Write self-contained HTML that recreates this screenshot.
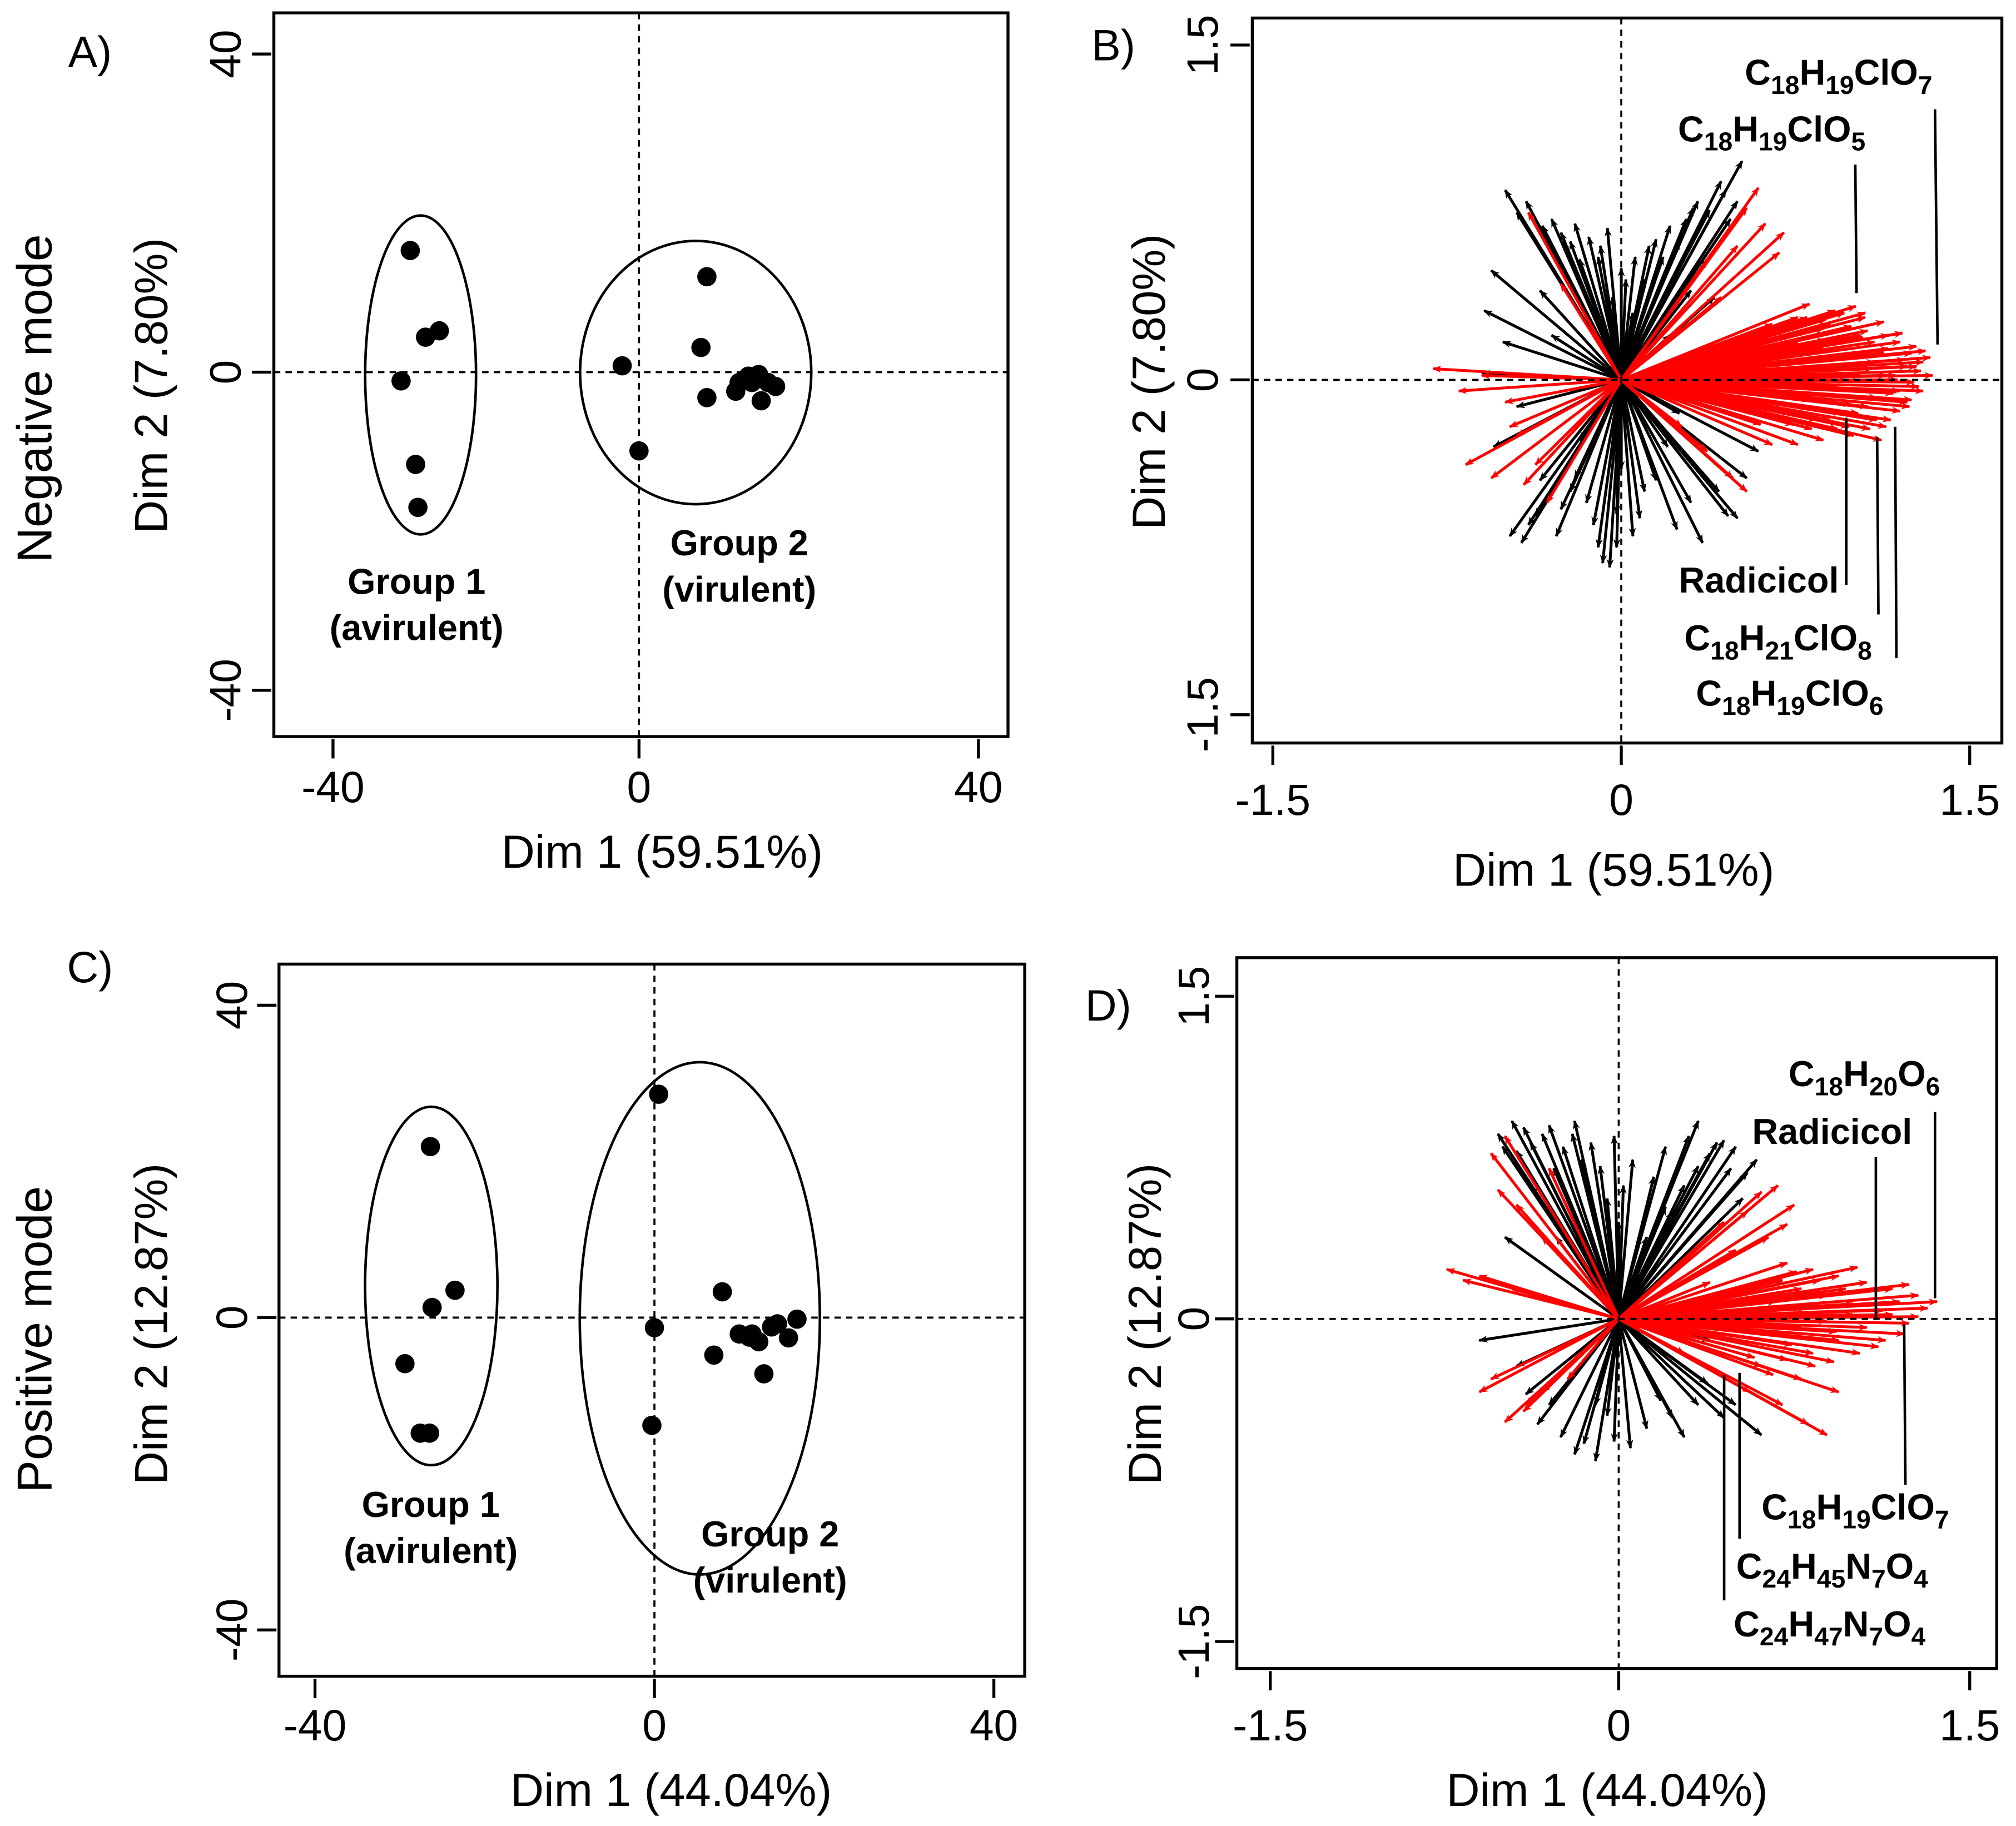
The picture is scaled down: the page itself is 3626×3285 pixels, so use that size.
<!DOCTYPE html>
<html><head><meta charset="utf-8"><style>
html,body{margin:0;padding:0;background:#fff}
svg{display:block}
text{font-family:"Liberation Sans",Arial,sans-serif;fill:#000}
.b{font-weight:bold}
</style></head><body>
<svg id="fig" xmlns="http://www.w3.org/2000/svg" width="3626" height="3285" viewBox="0 0 1568 1420.5">
<defs>
<marker id="ahk" viewBox="0 0 10 10" refX="9" refY="5" markerWidth="8" markerHeight="7" orient="auto" markerUnits="userSpaceOnUse"><path d="M0,1 L10,5 L0,9 L3,5 Z" fill="#000"/></marker>
<marker id="ahr" viewBox="0 0 10 10" refX="9" refY="5" markerWidth="8" markerHeight="7" orient="auto" markerUnits="userSpaceOnUse"><path d="M0,1 L10,5 L0,9 L3,5 Z" fill="#f00"/></marker>
</defs>
</svg>
<script>
// ---------- Panel A data (Dim1, Dim2) ----------
const aG1x=[-29.9,-27.9,-26.1,-31.1,-29.2,-28.9];
const aG1y=[15.3,4.4,5.2,-1.1,-11.6,-17.0];
const aG2x=[8.0,7.3,-2.2,0,8.0,11.8,12.9,14.1,15.2,16.1,11.4,14.4,13.3];
const aG2y=[12.0,3.1,0.8,-9.9,-3.2,-1.3,-0.5,-0.3,-1.3,-1.8,-2.4,-3.6,-1.3];
const aEll=[[-35.8,-21.3,19.7,-20.4],[-7.7,20.3,16.5,-16.6]];
// ---------- Panel C data ----------
const cG1x=[-26.4,-23.5,-26.2,-29.4,-27.6,-26.5];
const cG1y=[21.9,3.5,1.3,-5.9,-14.8,-14.8];
const cG2x=[0.5,8.0,0,-0.3,7.0,10.0,11.2,12.3,13.8,14.5,15.8,16.8,12.9,11.5];
const cG2y=[28.6,3.3,-1.3,-13.8,-4.8,-2.1,-2.5,-3.1,-1.2,-0.8,-2.6,-0.2,-7.2,-2.1];
const cEll=[[-34.1,-18.5,27.0,-18.9],[-8.8,19.5,32.7,-32.9]];
const scoreTicks=[-40,0,40];
const loadTicks=[-1.5,0,1.5];
// ---------- Panel B loadings ----------
const bBlackX=[-0.50,-0.41,-0.56,-0.59,-0.34,-0.26,-0.18,-0.09,-0.04,-0.51,0.52,0.43,0.31,0.21,0.15,0.47,0.37,0.40,0.21,-0.48,-0.43,-0.37,-0.26,-0.20,-0.08,-0.05,0.24,0.35,0.46,0.54,0.59,0.10,-0.18,-0.60,-0.45,0.55,0.35,-0.30,0.20,-0.15,0.05,-0.45,-0.22,0.0,0.10,-0.02,
 -0.30,-0.25,-0.20,-0.14,-0.10,-0.06,0.02,0.06,0.12,0.18,0.25,0.28,0.33,0.38,0.45,0.50,-0.40,-0.33,-0.28,-0.22,-0.12,-0.02,0.08,0.15,0.30,0.42,0.50,-0.55,-0.35,0.45,0.25,-0.10,0.00,0.05,-0.35,0.30];
const bBlackY=[0.85,0.80,0.49,0.31,0.69,0.66,0.54,0.60,0.37,0.17,0.98,0.89,0.77,0.69,0.63,0.72,0.54,0.37,0.20,-0.70,-0.73,-0.61,-0.58,-0.44,-0.82,-0.84,-0.67,-0.73,-0.61,-0.44,-0.32,-0.50,-0.27,0.03,-0.12,-0.05,0.10,0.20,-0.30,-0.55,-0.70,0.75,0.62,0.50,0.45,-0.60,
 0.72,0.62,0.70,0.64,0.55,0.68,0.45,0.55,0.60,0.55,0.62,0.72,0.80,0.76,0.85,0.80,-0.65,-0.55,-0.70,-0.50,-0.65,-0.75,-0.62,-0.45,-0.55,-0.50,-0.62,-0.30,-0.45,0.05,-0.15,-0.75,-0.40,0.30,0.40,0.40];
const bRedX=[-0.81,-0.67,-0.56,-0.42,-0.37,-0.48,-0.40,-0.26,0.59,0.54,0.70,0.68,0.43,1.01,0.92,0.81,0.76,0.65,0.87,1.03,1.09,1.20,1.31,1.34,1.28,1.25,1.20,1.14,1.12,0.98,0.87,0.76,0.65,0.54,0.48,0.37,0.26,1.14,1.03,0.92,0.81,1.09,0.98,0.87,0.76,1.23,1.17,1.06,0.95,0.84,0.73,0.62,0.51,0.37,0.32,0.43,0.26,1.30,1.25,1.15,1.10,1.00,0.90,1.20,1.05,0.95,0.70,0.60,-0.60,-0.50,
 1.33,1.29,1.26,1.22,1.18,1.13,1.08,1.04,0.99,0.94,1.30,1.27,1.23,1.19,1.15,1.10,1.06,1.02,0.97,0.93,0.88,1.24,1.16,1.07,0.99,0.90,0.82,0.74,1.27,1.21,1.13,1.05,0.96,0.88,0.80,0.71,0.63,0.56,-0.70,-0.45,-0.32,0.50,0.62];
const bRedY=[0.05,-0.38,-0.44,-0.47,-0.38,-0.21,0.75,0.43,0.86,0.77,0.66,0.57,0.37,0.33,0.31,0.34,0.28,0.25,0.23,0.20,0.17,0.17,0.13,0.02,-0.03,-0.09,-0.14,-0.21,-0.27,-0.21,-0.27,-0.29,-0.29,-0.50,-0.44,-0.32,-0.21,0.02,0.02,-0.03,-0.09,0.08,0.11,0.14,0.17,0.06,-0.06,-0.12,-0.15,-0.18,-0.15,-0.12,-0.03,-0.09,0.08,0.14,0.23,0.08,0.12,0.14,-0.18,-0.25,0.25,-0.05,0.28,0.05,0.05,-0.20,0.02,-0.10,
 0.10,0.04,-0.01,0.09,0.02,0.12,0.05,0.19,0.24,0.10,-0.05,0.06,-0.10,0.00,0.20,-0.08,0.22,-0.15,0.00,-0.22,0.18,-0.12,-0.18,-0.22,-0.11,-0.18,-0.22,-0.20,0.15,0.21,0.26,0.30,0.30,0.27,0.28,0.20,0.22,0.18,-0.05,-0.25,-0.55,0.60,0.70];
// ---------- Panel D loadings ----------
const dBlackX=[-0.52,-0.46,-0.41,-0.33,-0.24,-0.16,-0.08,-0.05,-0.38,-0.49,0.59,0.50,0.45,0.39,0.34,0.28,0.23,0.53,-0.35,-0.19,-0.10,-0.02,0.12,0.23,0.34,0.45,0.61,-0.60,-0.44,0.39,-0.27,0.12,0.06,-0.19,0.34,
 -0.50,-0.44,-0.38,-0.30,-0.28,-0.20,-0.12,-0.02,0.02,0.15,0.20,0.30,0.42,0.48,0.55,-0.30,-0.25,-0.15,-0.05,0.05,0.18,0.28,0.38,0.50,-0.40,-0.10,0.00,0.20];
const dBlackY=[0.86,0.92,0.89,0.86,0.80,0.74,0.71,0.56,0.62,0.38,0.74,0.80,0.83,0.77,0.71,0.62,0.50,0.56,-0.49,-0.63,-0.66,-0.57,-0.51,-0.46,-0.40,-0.46,-0.54,-0.10,-0.22,-0.10,0.38,0.38,0.74,0.92,0.92,
 0.80,0.78,0.82,0.90,0.70,0.86,0.82,0.85,0.62,0.66,0.80,0.85,0.82,0.70,0.68,-0.40,-0.55,-0.58,-0.45,-0.60,-0.38,-0.55,-0.30,-0.40,-0.35,-0.40,0.45,0.52];
const dRedX=[-0.55,-0.49,-0.44,-0.33,-0.74,-0.60,-0.46,-0.49,-0.41,-0.33,-0.22,-0.60,0.89,0.81,0.70,0.56,0.78,0.94,0.61,0.75,0.72,0.64,0.50,1.36,1.28,1.17,1.06,0.94,0.83,0.72,1.17,1.28,1.06,0.94,0.83,0.72,0.61,1.00,0.89,0.78,0.67,0.56,1.11,1.22,0.89,0.78,0.39,0.28,
 1.32,1.24,1.20,1.13,1.02,0.97,0.86,0.76,1.24,1.14,1.03,0.93,0.84,0.74,0.66,0.58,1.00,0.92,0.80,0.70,-0.67,-0.55,-0.40,-0.52,-0.30,0.45,0.55,0.68];
const dRedY=[0.77,0.85,0.53,0.38,0.23,0.20,0.14,-0.48,-0.43,-0.34,-0.28,-0.34,-0.54,-0.49,-0.40,-0.34,-0.28,-0.34,0.59,0.53,0.44,0.38,0.32,0.08,0.11,0.14,0.17,0.20,0.23,0.26,0.02,0.01,-0.04,-0.10,-0.16,-0.19,-0.22,0.07,0.11,0.14,0.08,-0.04,-0.13,-0.07,-0.01,-0.04,0.17,-0.16,
 0.05,0.16,0.08,0.04,0.24,0.14,0.18,0.22,-0.02,-0.10,-0.16,-0.06,-0.22,-0.12,-0.26,-0.18,0.02,-0.20,0.05,0.18,0.18,-0.28,-0.40,0.60,0.70,0.45,0.50,0.62];

const svg=document.getElementById('fig');
const NS='http://www.w3.org/2000/svg';
function mk(tag,attrs,parent){const e=document.createElementNS(NS,tag);for(const k in attrs)e.setAttribute(k,attrs[k]);(parent||svg).appendChild(e);return e;}
function lin(d0,d1,p0,p1){return v=>p0+(v-d0)*(p1-p0)/(d1-d0);}
function pw(dm,d0,d1,pm,p0,p1){return v=>v<dm?pm+(v-dm)*(pm-p0)/(dm-d0):pm+(v-dm)*(p1-pm)/(d1-dm);}

function frame(g,box,xs,ys,xt,yt,xlabY,ylabX,xTitle,yTitle,titleX,titleY,yTitleX,yTitleY,zx,zy){
  const r=mk('rect',{x:box[0],y:box[1],width:box[2]-box[0],height:box[3]-box[1],fill:'none',stroke:'#000','stroke-width':2.3},g);
  
  
  const v=mk('line',{x1:zx,x2:zx,y1:box[1],y2:box[3],stroke:'#000','stroke-width':1.6,'stroke-dasharray':'5,4'},g);
  
  
  const h=mk('line',{x1:box[0],x2:box[2],y1:zy,y2:zy,stroke:'#000','stroke-width':1.6,'stroke-dasharray':'5,4'},g);
  
  
  xt.forEach(t=>{const x=xs(t);
    const l=mk('line',{x1:x,x2:x,y1:box[3]+2,y2:box[3]+17,stroke:'#000','stroke-width':2.3},g);
    
    
    const tx=mk('text',{x:x,y:xlabY+12,'text-anchor':'middle','font-size':34},g);tx.textContent=String(t);
    
    
  });
  yt.forEach(t=>{const y=ys(t);
    const l=mk('line',{x1:box[0]-2,x2:box[0]-17,y1:y,y2:y,stroke:'#000','stroke-width':2.3},g);
    
    
    const tx=mk('text',{x:0,y:0,'text-anchor':'middle','font-size':34,transform:`translate(${ylabX+12},${y}) rotate(-90)`},g);tx.textContent=String(t);
    
    
  });
  const xT=mk('text',{x:titleX,y:titleY+13,'text-anchor':'middle','font-size':36},g);xT.textContent=xTitle;
  
  
  const yT=mk('text',{x:0,y:0,'text-anchor':'middle','font-size':36,transform:`translate(${yTitleX+13},${yTitleY}) rotate(-90)`},g);yT.textContent=yTitle;
  
  
}
function label(g,x,y,txt,size,name,bold,anchor,rot){
  const t=mk('text',{x:x,y:y,'text-anchor':anchor||'middle','font-size':size},g);
  if(bold)t.setAttribute('class','b');
  if(rot)t.setAttribute('transform',`rotate(-90 ${x} ${y})`);
  t.textContent=txt;
  
  
  return t;
}
function formula(g,x,y,parts,name){
  const t=mk('text',{x:x,y:y,'text-anchor':'middle','font-size':28,'class':'b'},g);
  
  
  parts.forEach((p,i)=>{const s=mk('tspan',{},t);s.textContent=p;
    if(i%2===1){s.setAttribute('font-size',20);s.setAttribute('dy',7);}
    else if(i>0){s.setAttribute('dy',-7);}
  });
}
function scorePanel(id,box,xs,ys,g1x,g1y,g2x,g2y,ell){
  const g=mk('g',{});
  
  
  ell.forEach((e,i)=>{const x0=xs(e[0]),x1=xs(e[1]),y0=ys(e[2]),y1=ys(e[3]);
    const el=mk('ellipse',{cx:(x0+x1)/2,cy:(y0+y1)/2,rx:Math.abs(x1-x0)/2,ry:Math.abs(y1-y0)/2,fill:'none',stroke:'#000','stroke-width':2},g);
    
    
  });
  [[g1x,g1y,'group-1-point'],[g2x,g2y,'group-2-point']].forEach(([X,Y,n])=>{
    X.forEach((v,i)=>{const c=mk('circle',{cx:xs(v),cy:ys(Y[i]),r:7.5,fill:'#000'},g);
      
      
    });
  });
  return g;
}
function loadPanel(id,xs,ys,bx,by,rx,ry){
  const g=mk('g',{});
  
  
  const ox=xs(0),oy=ys(0);
  bx.forEach((v,i)=>{const l=mk('line',{x1:ox,y1:oy,x2:xs(v),y2:ys(by[i]),stroke:'#000','stroke-width':2.2,'marker-end':'url(#ahk)'},g);
    
    
  });
  rx.forEach((v,i)=>{const l=mk('line',{x1:ox,y1:oy,x2:xs(v),y2:ys(ry[i]),stroke:'#f00','stroke-width':2.2,'marker-end':'url(#ahr)'},g);
    
    
  });
  return g;
}
function lead(g,x1,y1,x2,y2){const l=mk('line',{x1:x1,y1:y1,x2:x2,y2:y2,stroke:'#000','stroke-width':2},g);
  
  }

// ===== Panel A =====
{const box=[213,10,784,573];const xs=pw(0,-40,40,497,259,761);const ys=lin(-40,40,537,42);
 const g=scorePanel('panel-a',box,xs,ys,aG1x,aG1y,aG2x,aG2y,aEll);
 frame(g,box,xs,ys,scoreTicks,scoreTicks,612,175,'Dim 1 (59.51%)','Dim 2 (7.80%)',515,662,117,300,xs(0),ys(0));
 label(g,324,462,'Group 1',28,'group-1-label',true);label(g,324,498,'(avirulent)',28,'group-1-sublabel',true);
 label(g,575,432,'Group 2',28,'group-2-label',true);label(g,575,468,'(virulent)',28,'group-2-sublabel',true);
 label(g,70,52,'A)',34,'panel-a-label');
 label(g,40,310,'Negative  mode',38,'negative-mode-label',false,'middle',true);
}
// ===== Panel B =====
{const box=[974,14,1557,578];const xs=lin(-1.5,1.5,990,1532);const ys=lin(-1.5,1.5,556,35);
 const g=loadPanel('panel-b',xs,ys,bBlackX,bBlackY,bRedX,bRedY);
 frame(g,box,xs,ys,loadTicks,loadTicks,622,935,'Dim 1 (59.51%)','Dim 2 (7.80%)',1255,676,893,297,xs(0),ys(0));
 formula(g,1430,66,['C','18','H','19','ClO','7'],'label-c18h19clo7');lead(g,1505,85,1507,268);
 formula(g,1378,110,['C','18','H','19','ClO','5'],'label-c18h19clo5');lead(g,1443,128,1444,228);
 label(g,1368,461,'Radicicol',28,'label-radicicol',true);lead(g,1436,325,1436,455);
 formula(g,1383,506,['C','18','H','21','ClO','8'],'label-c18h21clo8');lead(g,1460,340,1461,478);
 formula(g,1392,549,['C','18','H','19','ClO','6'],'label-c18h19clo6');lead(g,1474,332,1475,512);
 label(g,866,47,'B)',34,'panel-b-label');
}
// ===== Panel C =====
{const box=[217,750,797,1304];const xs=lin(-40,40,245,773);const ys=lin(-40,40,1268,782);
 const g=scorePanel('panel-c',box,xs,ys,cG1x,cG1y,cG2x,cG2y,cEll);
 frame(g,box,xs,ys,scoreTicks,scoreTicks,1342,180,'Dim 1 (44.04%)','Dim 2 (12.87%)',522,1392,117,1030,xs(0),ys(0));
 label(g,335,1180,'Group 1',28,'group-1-label',true);label(g,335,1216,'(avirulent)',28,'group-1-sublabel',true);
 label(g,599,1203,'Group 2',28,'group-2-label',true);label(g,599,1239,'(virulent)',28,'group-2-sublabel',true);
 label(g,70,764,'C)',34,'panel-c-label');
 label(g,40,1042,'Positive  mode',38,'positive-mode-label',false,'middle',true);
}
// ===== Panel D =====
{const box=[962,745,1553,1298];const xs=pw(0,-1.5,1.5,1259,988,1532);const ys=lin(-1.5,1.5,1277,775);
 const g=loadPanel('panel-d',xs,ys,dBlackX,dBlackY,dRedX,dRedY);
 frame(g,box,xs,ys,loadTicks,loadTicks,1342,928,'Dim 1 (44.04%)','Dim 2 (12.87%)',1250,1392,890,1030,xs(0),ys(0));
 formula(g,1450,845,['C','18','H','20','O','6'],'label-c18h20o6');lead(g,1505,865,1505,1010);
 label(g,1425,890,'Radicicol',28,'label-radicicol',true);lead(g,1459,900,1459,1027);
 formula(g,1443,1182,['C','18','H','19','ClO','7'],'label-c18h19clo7');lead(g,1481,1030,1482,1155);
 formula(g,1425,1228,['C','24','H','45','N','7','O','4'],'label-c24h45n7o4');lead(g,1353,1068,1353,1197);
 formula(g,1423,1273,['C','24','H','47','N','7','O','4'],'label-c24h47n7o4');lead(g,1341,1070,1341,1245);
 label(g,862,794,'D)',34,'panel-d-label');
}
</script>
</body></html>
